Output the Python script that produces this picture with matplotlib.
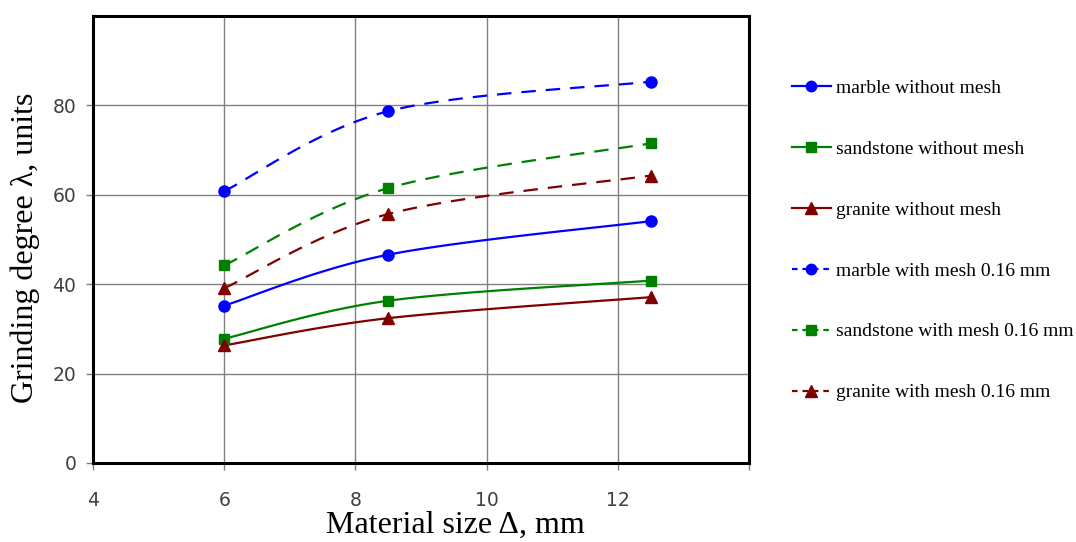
import numpy as np
import matplotlib
matplotlib.use("Agg")
import matplotlib.pyplot as plt
from matplotlib.ticker import FixedLocator

# ---- data ----
x_size = [6, 8.5, 12.5]
marble_without = [35.2, 46.6, 54.1]
sandstone_without = [27.8, 36.3, 40.8]
granite_without = [26.3, 32.4, 37.1]
marble_with = [60.8, 78.7, 85.3]
sandstone_with = [44.2, 61.5, 71.5]
granite_with = [39.1, 55.7, 64.3]

labels = ["marble without mesh", "sandstone without mesh", "granite without mesh",
          "marble with mesh 0.16 mm", "sandstone with mesh 0.16 mm", "granite with mesh 0.16 mm"]
series = [marble_without, sandstone_without, granite_without,
          marble_with, sandstone_with, granite_with]
colors = ["#0000FF", "#008000", "#800000", "#0000FF", "#008000", "#800000"]
markers = ["o", "s", "^", "o", "s", "^"]
dashed = [False, False, False, True, True, True]

x_ticks = [4, 6, 8, 10, 12, 14]
x_ticklabels = ["4", "6", "8", "10", "12", ""]
y_ticks = [0, 20, 40, 60, 80]


def smooth(xs, ys, n=40):
    """Catmull-Rom style (Excel-like) smoothing through the given points."""
    P = np.column_stack([xs, ys]).astype(float)
    out = []
    m = len(P)
    for i in range(m - 1):
        p0 = P[i - 1] if i > 0 else P[i]
        p1 = P[i]
        p2 = P[i + 1]
        p3 = P[i + 2] if i + 2 < m else P[i + 1]
        c1 = p1 + (p2 - p0) / 6.0
        c2 = p2 - (p3 - p1) / 6.0
        t = np.linspace(0, 1, n)[:, None]
        b = ((1 - t) ** 3) * p1 + 3 * ((1 - t) ** 2) * t * c1 + 3 * (1 - t) * t ** 2 * c2 + t ** 3 * p2
        out.append(b if i == 0 else b[1:])
    c = np.vstack(out)
    return c[:, 0], c[:, 1]


fig = plt.figure(figsize=(10.76, 5.42), dpi=100)
ax = fig.add_axes([93 / 1076, 1 - 463 / 542, (749 - 93) / 1076, (463 - 16) / 542])

handles = []
for ys, lab, col, mk, ds in zip(series, labels, colors, markers, dashed):
    sx, sy = smooth(x_size, ys)
    ls = (0, (6.5, 4.5)) if ds else "-"
    ax.plot(sx, sy, color=col, lw=1.6, linestyle=ls, zorder=3)
    ms = 8 if mk == "o" else (7.5 if mk == "s" else 8.5)
    ax.plot(x_size, ys, linestyle="none", marker=mk, markersize=ms, color=col,
            markeredgecolor=col, zorder=4)
    h, = ax.plot([], [], color=col, lw=1.6,
                 linestyle=(0, (2.5, 2.2)) if ds else "-",
                 marker=mk, markersize=ms - 0.5, label=lab)
    handles.append(h)

ax.set_xlim(4, 14)
ax.set_ylim(0, 100)
ax.xaxis.set_major_locator(FixedLocator(x_ticks))
ax.set_xticklabels(x_ticklabels)
ax.yaxis.set_major_locator(FixedLocator(y_ticks))

ax.grid(True, color="#808080", lw=1.0)
ax.set_axisbelow(True)
for s in ax.spines.values():
    s.set_linewidth(2.2)
    s.set_color("black")

ax.tick_params(axis="both", direction="out", length=5, width=1, color="#808080",
               labelsize=13.5, labelcolor="#404040")
ax.tick_params(axis="x", pad=15)
ax.tick_params(axis="y", pad=7)
for t in ax.get_xticklabels() + ax.get_yticklabels():
    t.set_family("DejaVu Sans")

serif = ["Liberation Serif", "DejaVu Serif"]
fig.text(25 / 1076, 1 - 248 / 542, "Grinding degree λ, units", rotation=90,
         ha="center", va="center", fontsize=23, family=serif, color="black")
fig.text(455 / 1076, 1 - 533 / 542, "Material size Δ, mm", ha="center",
         va="baseline", fontsize=23, family=serif, color="black")

leg = fig.legend(handles=handles, loc="upper left",
                 bbox_to_anchor=(792 / 1076, 1 - 79 / 542), frameon=False,
                 prop={"family": serif, "size": 14}, labelspacing=2.23,
                 handlelength=2.0, handletextpad=0.25, borderaxespad=0,
                 borderpad=0)

fig.savefig("out.png", dpi=100)
